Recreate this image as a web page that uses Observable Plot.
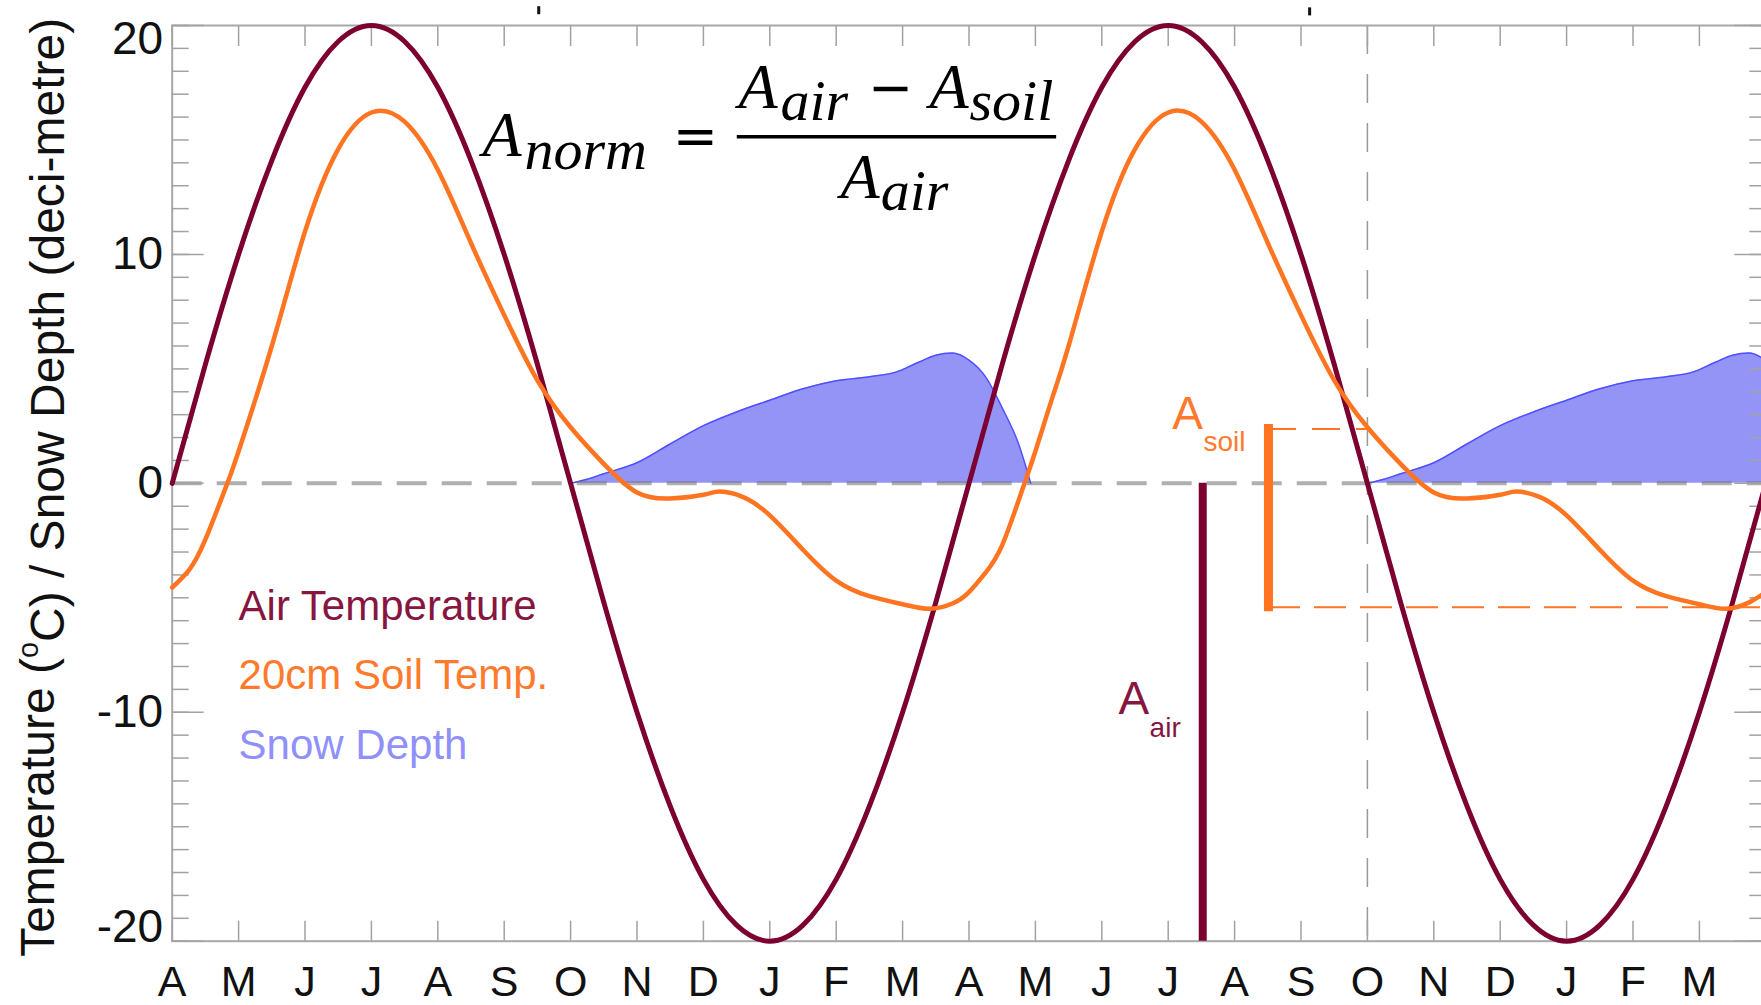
<!DOCTYPE html>
<html><head><meta charset="utf-8">
<script src="https://cdn.jsdelivr.net/npm/d3@7"></script>
<script src="https://cdn.jsdelivr.net/npm/@observablehq/plot@0.6"></script>
<style>
html,body{margin:0;padding:0;background:#fff;overflow:hidden}
#wrap{width:1761px;height:1005px;overflow:hidden;position:relative;background:#fff}
#wrap svg{display:block;max-width:none !important;width:1790px !important;height:1005px !important}
</style></head><body><div id="wrap"></div>
<script>
// ---------- data ----------
const monthLabels = ["A","M","J","J","A","S","O","N","D","J","F","M","A","M","J","J","A","S","O","N","D","J","F","M"];
const monthTicks = [0,1,2,3,4,5,6,7,8,9,10,11,12,13,14,15,16,17,18,19,20,21,22,23,24];
const yMajorTicks = [-20,-10,0,10,20];
const yMinorTicks = [-20,-19,-18,-17,-16,-15,-14,-13,-12,-11,-10,-9,-8,-7,-6,-5,-4,-3,-2,-1,0,1,2,3,4,5,6,7,8,9,10,11,12,13,14,15,16,17,18,19,20];

// months since April (x), air temperature (°C)
const airMonth = [0,0.5,1,1.5,2,2.5,3,3.5,4,4.5,5,5.5,6,6.5,7,7.5,8,8.5,9,9.5,10,10.5,11,11.5,12,12.5,13,13.5,14,14.5,15,15.5,16,16.5,17,17.5,18,18.5,19,19.5,20,20.5,21,21.5,22,22.5,23,23.5,24];
const airTemp = [0,5.2,10,14.1,17.3,19.3,20,19.3,17.3,14.1,10,5.2,0,-5.2,-10,-14.1,-17.3,-19.3,-20,-19.3,-17.3,-14.1,-10,-5.2,0,5.2,10,14.1,17.3,19.3,20,19.3,17.3,14.1,10,5.2,0,-5.2,-10,-14.1,-17.3,-19.3,-20,-19.3,-17.3,-14.1,-10,-5.2,0];

// 20cm soil temperature (°C)
const soilMonth = [0,0.25,0.5,0.83,1,1.5,2,2.5,3,3.5,4,4.5,5,5.5,6,6.5,7,7.5,8,8.25,8.6,9,9.5,10,10.5,11,11.4,11.75,12,12.25,12.5,12.8,13,13.25,13.5,14,14.5,15,15.5,16,16.5,17,17.5,18,18.5,19,19.5,20,20.25,20.6,21,21.5,22,22.5,23,23.4,23.75,24];
const soilTemp = [-4.55,-3.8,-2.45,0,1.4,6.0,11.0,14.6,16.2,15.8,13.7,10.5,7.35,4.5,2.45,0.85,-0.4,-0.66,-0.5,-0.36,-0.6,-1.4,-2.9,-4.25,-4.93,-5.28,-5.48,-5.25,-4.75,-3.9,-2.7,-0.3,1.4,3.7,6.0,11.0,14.6,16.2,15.8,13.7,10.5,7.35,4.5,2.45,0.85,-0.4,-0.66,-0.5,-0.36,-0.6,-1.4,-2.9,-4.25,-4.93,-5.28,-5.48,-5.2,-4.75];

// snow depth (deci-metre), two winters
const snowMonth = [6,6.25,6.5,7,7.5,8,8.5,9,9.5,10,10.5,10.9,11.25,11.5,11.75,12,12.25,12.5,12.75,12.93, 18,18.25,18.5,19,19.5,20,20.5,21,21.5,22,22.5,22.9,23.25,23.5,23.75,24];
const snowDepth = [0,0.18,0.42,0.9,1.72,2.52,3.12,3.63,4.13,4.48,4.66,4.86,5.3,5.6,5.69,5.38,4.65,3.3,1.7,0, 0,0.18,0.42,0.9,1.72,2.52,3.12,3.63,4.13,4.48,4.66,4.86,5.3,5.6,5.69,5.38];
const snowSeason = [1,1,1,1,1,1,1,1,1,1,1,1,1,1,1,1,1,1,1,1, 2,2,2,2,2,2,2,2,2,2,2,2,2,2,2,2];

// amplitude annotations (month position, value range)
const aAirBar = [{t: 15.52, top: 0, bottom: -20}];
const aSoilBar = [{t: 16.51, top: 2.37, bottom: -5.41, topEnd: 18, bottomEnd: 24}];

// two small black marks above the frame (cropped from a panel above)
const topMarks = [{t: 5.52, y1: 20.47, y2: 20.82}, {t: 17.13, y1: 20.42, y2: 20.77}];

const legendLabels = ["Air Temperature", "20cm Soil Temp.", "Snow Depth"];
const yTitle = "Temperature (°C) / Snow Depth (deci-metre)";

// ---------- styling ----------
const AIR = "#7c0030", AIRTXT = "#86163f", SOIL = "#ff7420", SOILTXT = "#ff7a2c", SNOWF = "#9494f7", SNOWS = "#4f4fff", SNOWTXT = "#9090fb";
const TICK = "#a2a2a2";
const SERIF = "'Liberation Serif', 'DejaVu Serif', serif";

const air = airMonth.map((t, i) => ({t, v: airTemp[i]}));
const soil = soilMonth.map((t, i) => ({t, v: soilTemp[i]}));
const snow = snowMonth.map((t, i) => ({t, v: snowDepth[i], s: snowSeason[i]}));

const legendRows = legendLabels.map((label, i) => ({label, x: 1.0, y: [-5.95, -9.0, -12.03][i], color: [AIRTXT, SOILTXT, SNOWTXT][i]}));

// formula pieces (annotation placement in month/value units)
const fItalicBig = [
  {s: "A", x: 4.673, y: 14.31},
  {s: "A", x: 8.53, y: 16.41},
  {s: "A", x: 11.405, y: 16.41},
  {s: "A", x: 10.064, y: 12.48}
];
const fItalicSub = [
  {s: "norm", x: 5.306, y: 13.74},
  {s: "air", x: 9.16, y: 15.88},
  {s: "soil", x: 12.007, y: 15.88},
  {s: "air", x: 10.67, y: 11.95}
];
const fOps = [
  {s: "=", x: 7.88, y: 15.16},
  {s: "\u2212", x: 10.817, y: 17.24}
];
const fBar = [{x1: 8.51, x2: 13.32, y: 15.14}];

const ampBig = [{s: "A", x: 14.25, y: -10.06, c: AIRTXT}, {s: "A", x: 15.06, y: 2.39, c: SOILTXT}];
const ampSub = [{s: "air", x: 14.72, y: -11.06, c: AIRTXT}, {s: "soil", x: 15.53, y: 1.43, c: SOILTXT}];

const tickOpts = {tickFormat: () => "", stroke: TICK, strokeWidth: 1.5, label: null};
const yLab = {y: d => d, text: d => String(d), frameAnchor: "left", textAnchor: "end", lineAnchor: "middle", dx: -9, fontSize: 46, fill: "#111"};

const plot = Plot.plot({
  width: 1790,
  height: 1005,
  marginLeft: 171.7,
  marginRight: 24.7,
  marginTop: 25,
  marginBottom: 64.3,
  x: {domain: [0, 24]},
  y: {domain: [-20, 20]},
  style: {background: "white", fontFamily: "'Liberation Sans', Arial, Helvetica, sans-serif", fontSize: "44px", color: "#111", overflow: "visible", maxWidth: "none"},
  marks: [
    Plot.areaY(snow, {x: "t", y: "v", z: "s", curve: "monotone-x", fill: SNOWF}),
    Plot.lineY(snow, {x: "t", y: "v", z: "s", curve: "monotone-x", stroke: SNOWS, strokeWidth: 1.5}),
    Plot.ruleY([0], {stroke: "#6e6e6e", strokeOpacity: 0.55, strokeWidth: 4, strokeDasharray: "30,15"}),
    Plot.ruleX([18], {stroke: "#9a9a9a", strokeWidth: 1.5, strokeDasharray: "29,20"}),
    Plot.frame({stroke: "#a8a8a8", strokeWidth: 2}),
    Plot.axisX(monthTicks, {anchor: "bottom", tickSize: -20, ...tickOpts}),
    Plot.axisX(monthTicks, {anchor: "top", tickSize: -20, ...tickOpts}),
    Plot.axisY(yMinorTicks, {anchor: "left", tickSize: -17, ...tickOpts}),
    Plot.axisY(yMajorTicks, {anchor: "left", tickSize: -32, ...tickOpts}),
    Plot.axisY(yMinorTicks, {anchor: "right", tickSize: -17, ...tickOpts}),
    Plot.axisY(yMajorTicks, {anchor: "right", tickSize: -32, ...tickOpts}),
    Plot.ruleX(topMarks, {x: "t", y1: "y1", y2: "y2", stroke: "#111", strokeWidth: 3}),
    // tick labels
    Plot.text(monthTicks.slice(0, 24), {x: d => d, text: d => monthLabels[d], frameAnchor: "bottom", lineAnchor: "top", dy: 24, fontSize: 43, fill: "#111"}),
    Plot.text(yMajorTicks.filter(v => v > -20 && v < 20), yLab),
    Plot.text(yMajorTicks.filter(v => v === 20), {...yLab, dy: 14}),
    Plot.text(yMajorTicks.filter(v => v === -20), {...yLab, dy: -14}),
    Plot.text([yTitle], {frameAnchor: "left", rotate: -90, dx: -118.7, dy: 4, lineAnchor: "bottom", textAnchor: "middle", fontSize: 48, fill: "#111"}),
    // curves
    Plot.lineY(air, {x: "t", y: "v", curve: "natural", stroke: AIR, strokeWidth: 5}),
    Plot.lineY(soil, {x: "t", y: "v", curve: "natural", stroke: SOIL, strokeWidth: 4.5}),
    // amplitude annotations
    Plot.ruleX(aAirBar, {x: "t", y1: "top", y2: "bottom", stroke: AIR, strokeWidth: 8}),
    Plot.ruleY(aSoilBar, {y: "top", x1: "t", x2: "topEnd", stroke: SOIL, strokeWidth: 2, strokeDasharray: "28,16"}),
    Plot.ruleY(aSoilBar, {y: "bottom", x1: "t", x2: "bottomEnd", stroke: SOIL, strokeWidth: 2, strokeDasharray: "32,14"}),
    Plot.ruleX(aSoilBar, {x: "t", y1: "top", y2: "bottom", stroke: SOIL, strokeWidth: 9, strokeLinecap: "square"}),
    Plot.text(ampBig, {x: "x", y: "y", text: "s", fill: "c", textAnchor: "start", lineAnchor: "bottom", fontSize: 46}),
    Plot.text(ampSub, {x: "x", y: "y", text: "s", fill: "c", textAnchor: "start", lineAnchor: "bottom", fontSize: 28}),
    // legend
    Plot.text(legendRows, {x: "x", y: "y", text: "label", fill: "color", textAnchor: "start", lineAnchor: "bottom", fontSize: 42}),
    // formula
    Plot.text(fItalicBig, {x: "x", y: "y", text: "s", textAnchor: "start", lineAnchor: "bottom", fontSize: 64, fontStyle: "italic", fontFamily: SERIF, fill: "#000"}),
    Plot.text(fItalicSub, {x: "x", y: "y", text: "s", textAnchor: "start", lineAnchor: "bottom", fontSize: 58, fontStyle: "italic", fontFamily: SERIF, fill: "#000"}),
    Plot.text(fOps, {x: "x", y: "y", text: "s", textAnchor: "middle", lineAnchor: "middle", fontSize: 54, fontFamily: "'DejaVu Sans', sans-serif", fill: "#000"}),
    Plot.ruleY(fBar, {y: "y", x1: "x1", x2: "x2", stroke: "#000", strokeWidth: 3.5})
  ]
});

// superscript "o" in the axis title
d3.select(plot).selectAll("text").filter(function () { return this.textContent === yTitle; }).each(function () {
  const t = d3.select(this);
  t.text(null);
  t.append("tspan").text("Temperature (");
  t.append("tspan").attr("font-size", "60%").attr("dy", "-0.55em").text("o");
  t.append("tspan").attr("dy", "0.55em").text("C) / Snow Depth (deci-metre)");
});

document.getElementById("wrap").appendChild(plot);
</script>
</body></html>
